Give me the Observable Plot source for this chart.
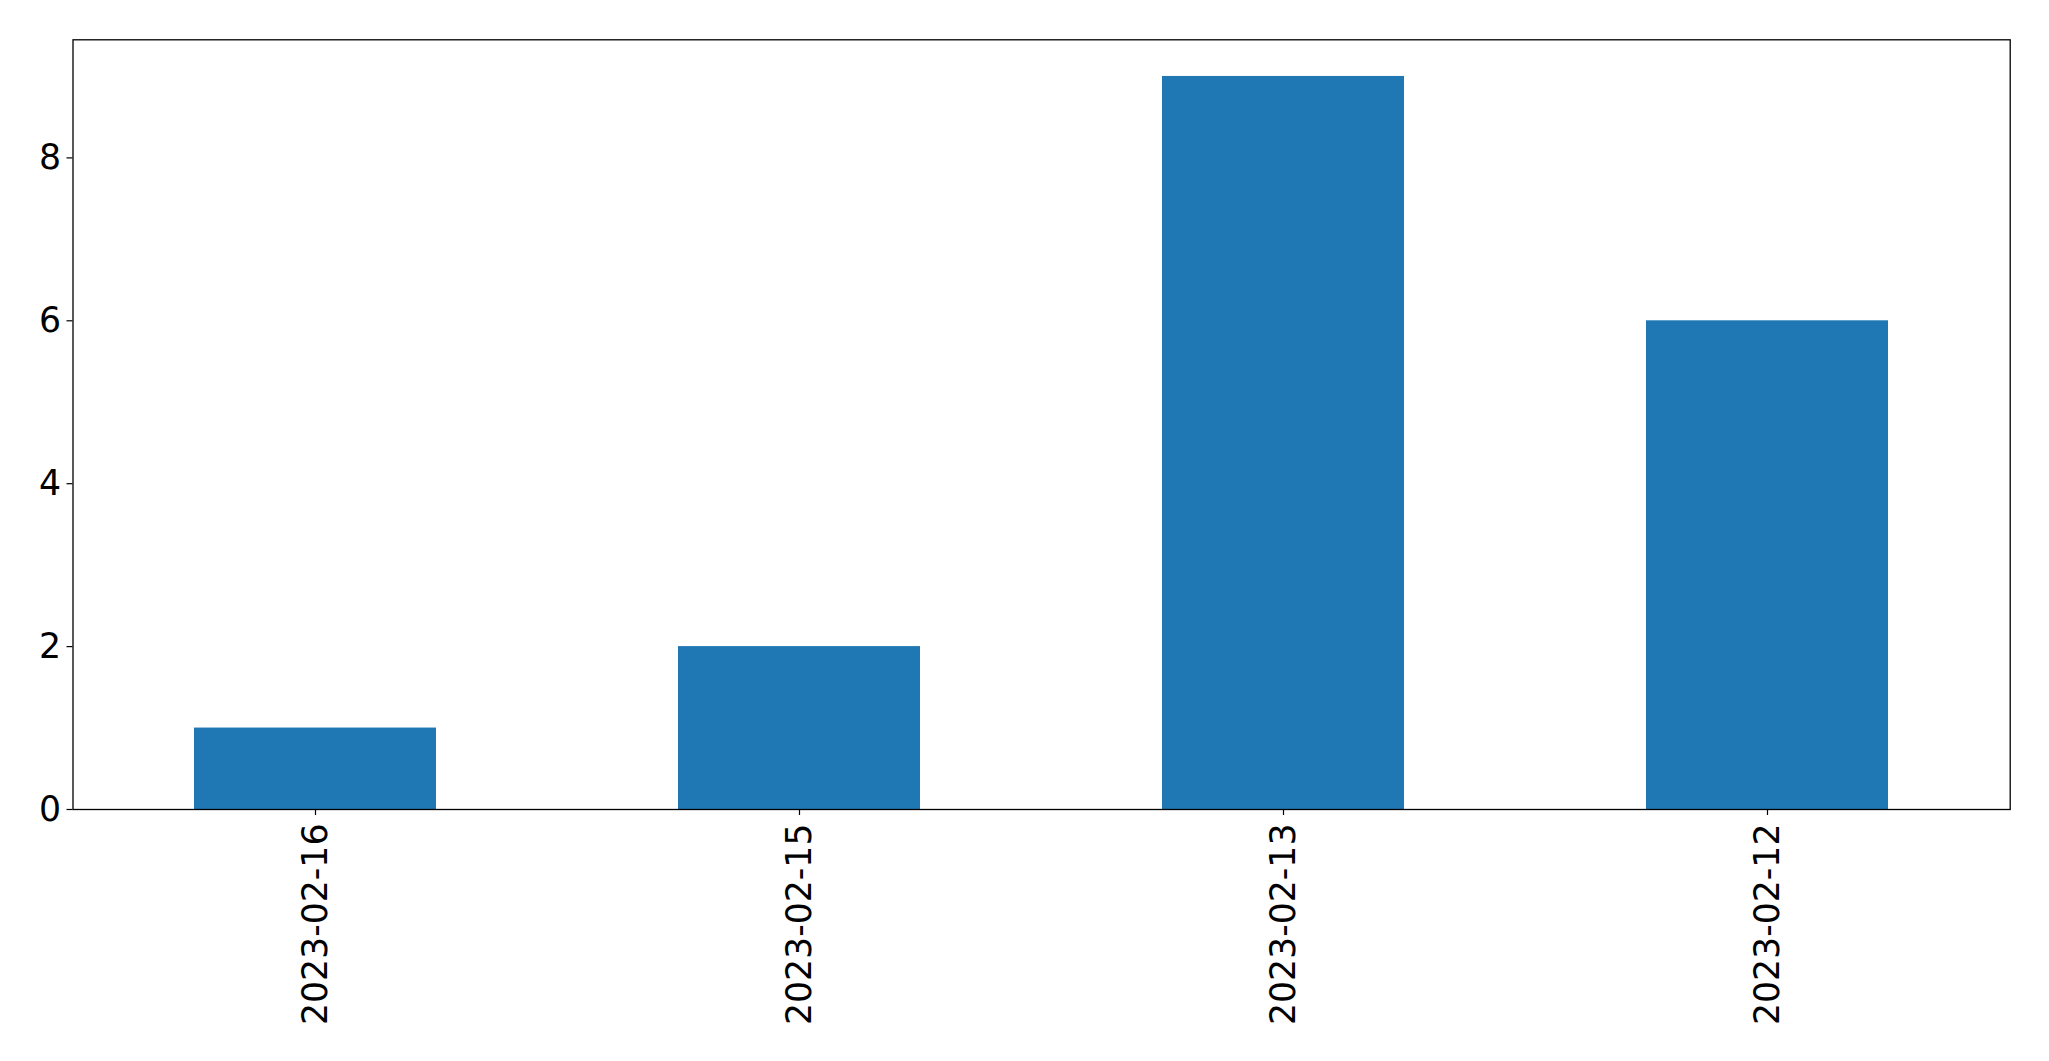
<!DOCTYPE html>
<html>
<head>
<meta charset="utf-8">
<script src="https://cdn.jsdelivr.net/npm/d3@7"></script>
<script src="https://cdn.jsdelivr.net/npm/@observablehq/plot@0.6"></script>
<style>
  html, body { margin: 0; padding: 0; background: #fff; }
  #chart svg { display: block; }
</style>
</head>
<body>
<div id="chart"></div>
<script>
const categories = ["2023-02-16", "2023-02-15", "2023-02-13", "2023-02-12"];
const values = [1, 2, 9, 6];
const yTicks = [0, 2, 4, 6, 8];

const data = categories.map((c, i) => ({ date: c, count: values[i] }));

const FS = 34.7;
const chart = Plot.plot({
  width: 2049,
  height: 1061,
  marginLeft: 72.5,
  marginRight: 39.3,
  marginTop: 39.3,
  marginBottom: 252,
  style: { fontFamily: "DejaVu Sans", fontSize: FS + "px", background: "#fff", color: "#000" },
  x: { domain: categories, paddingInner: 0.5, paddingOuter: 0.25, align: 0.5, label: null },
  y: { domain: [0, 9.45], label: null },
  marks: [
    Plot.barY(data, { x: "date", y: "count", fill: "#1f77b4" }),
    Plot.axisY({ ticks: yTicks, tickSize: 6, tickPadding: 6, fontSize: FS, label: null, tickFormat: d3.format("d"), stroke: "#000", strokeWidth: 1.2 }),
    Plot.axisX({ tickSize: 6, tickPadding: 8, tickRotate: -90, fontSize: FS, label: null, stroke: "#000", strokeWidth: 1.2 }),
    Plot.frame({ stroke: "#000", strokeWidth: 1.3 })
  ]
});
document.getElementById("chart").appendChild(chart);
</script>
</body>
</html>
